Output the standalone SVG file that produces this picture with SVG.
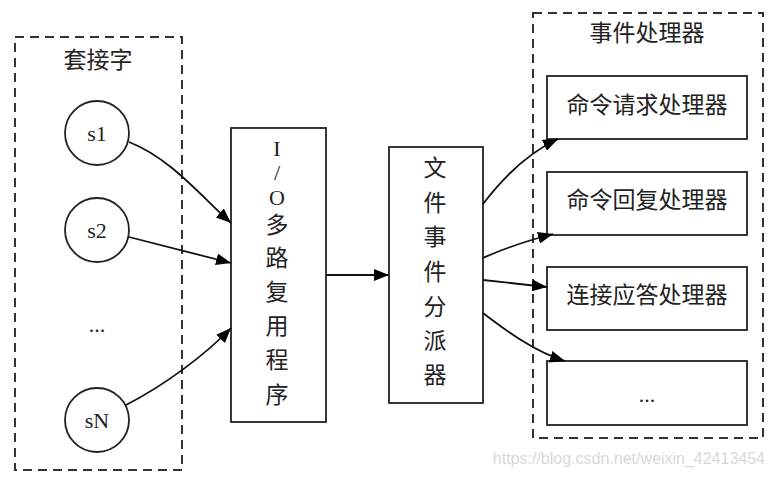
<svg xmlns="http://www.w3.org/2000/svg" width="775" height="477" viewBox="0 0 775 477">
<defs>
<marker id="ah" markerUnits="userSpaceOnUse" markerWidth="16" markerHeight="12" refX="15" refY="6" orient="auto">
<path d="M0,0 L15,6 L0,12 z" fill="#000"/>
</marker>
<style>
.dash{fill:none;stroke:#333;stroke-width:2;stroke-dasharray:9,6}
.box{fill:#fff;stroke:#222;stroke-width:1.8}
.cn{font-family:"Liberation Serif","Noto Sans CJK SC",serif;font-size:23px;fill:#222;text-anchor:middle;dominant-baseline:central}
.lt{font-family:"Liberation Serif","Noto Sans CJK SC",serif;font-size:22px;fill:#222;text-anchor:middle;dominant-baseline:central}
.edge{fill:none;stroke:#111;stroke-width:1.8;marker-end:url(#ah)}
</style>
</defs>
<rect width="775" height="477" fill="#fff"/>
<g id="sockets">
<rect class="dash" x="15" y="37" width="167" height="433"/>
<text class="cn" x="98" y="60">套接字</text>
</g>
<g id="s1"><circle class="box" cx="97" cy="133" r="32"/><text class="lt" x="97" y="133">s1</text></g>
<g id="s2"><circle class="box" cx="97" cy="230" r="32"/><text class="lt" x="97" y="230">s2</text></g>
<g id="sdots"><text class="lt" x="97" y="324">...</text></g>
<g id="sN"><circle class="box" cx="97" cy="420" r="32"/><text class="lt" x="97" y="420">sN</text></g>
<g id="iomux">
<rect class="box" x="231" y="128" width="95" height="294"/>
<text class="lt" x="277" y="148">I</text>
<text class="lt" x="277" y="172">/</text>
<text class="lt" x="277" y="197">O</text>
<text class="cn" x="277" y="225">多</text>
<text class="cn" x="277" y="258">路</text>
<text class="cn" x="277" y="292">复</text>
<text class="cn" x="277" y="326">用</text>
<text class="cn" x="277" y="360">程</text>
<text class="cn" x="277" y="395">序</text>
</g>
<g id="dispatcher">
<rect class="box" x="389" y="147" width="94" height="256"/>
<text class="cn" x="435" y="168">文</text>
<text class="cn" x="435" y="203">件</text>
<text class="cn" x="435" y="237">事</text>
<text class="cn" x="435" y="272">件</text>
<text class="cn" x="435" y="307">分</text>
<text class="cn" x="435" y="341">派</text>
<text class="cn" x="435" y="375">器</text>
</g>
<g id="handlers">
<rect class="dash" x="533" y="13" width="230" height="425"/>
<text class="cn" x="647" y="33">事件处理器</text>
</g>
<g id="h1"><rect class="box" x="547" y="76" width="200" height="63"/><text class="cn" x="647" y="105">命令请求处理器</text></g>
<g id="h2"><rect class="box" x="547" y="172" width="200" height="63"/><text class="cn" x="647" y="200">命令回复处理器</text></g>
<g id="h3"><rect class="box" x="547" y="267" width="200" height="63"/><text class="cn" x="647" y="295">连接应答处理器</text></g>
<g id="h4"><rect class="box" x="547" y="361" width="200" height="64"/><text class="lt" x="647" y="394">...</text></g>
<g id="connectors">
<path class="edge" d="M129,142 C170,158 200,195 231,223"/>
<path class="edge" d="M129,237 L231,263"/>
<path class="edge" d="M126,405 C165,385 205,355 231,328"/>
<path class="edge" d="M326,275 L389,275"/>
<path class="edge" d="M483,204 C505,175 530,152 558,139"/>
<path class="edge" d="M483,258 C505,248 530,240 553,234"/>
<path class="edge" d="M483,280 L547,287"/>
<path class="edge" d="M483,313 C505,330 535,352 565,361"/>
</g>
<text x="765" y="464" font-family="'Liberation Sans',Arial,sans-serif" font-size="16" fill="#d8d8d8" text-anchor="end">https://blog.csdn.net/weixin_42413454</text>
</svg>
